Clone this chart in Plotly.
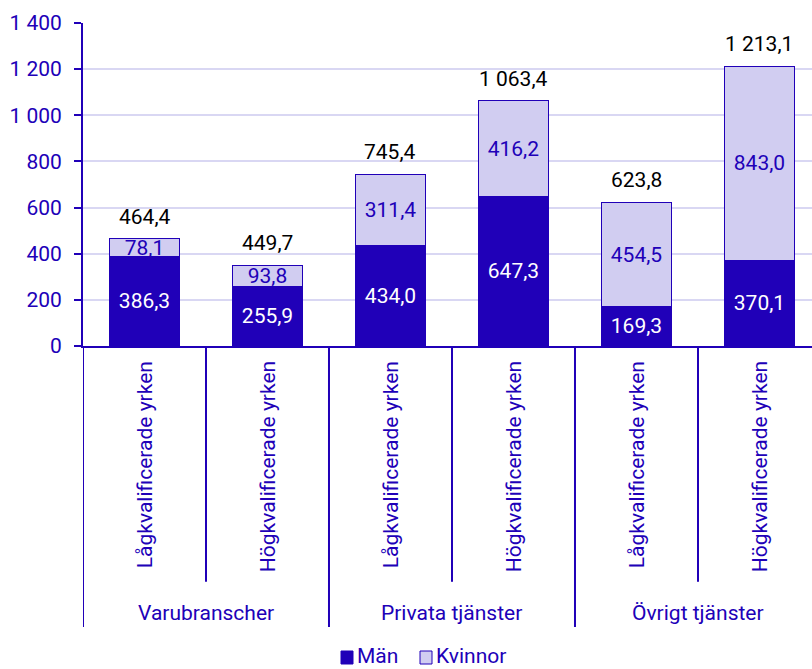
import plotly.graph_objects as go

categories = ["Lågkvalificerade yrken", "Högkvalificerade yrken",
              "Lågkvalificerade yrken", "Högkvalificerade yrken",
              "Lågkvalificerade yrken", "Högkvalificerade yrken"]
groups = ["Varubranscher", "Privata tjänster", "Övrigt tjänster"]
series_names = ["Män", "Kvinnor"]
man = [386.3, 255.9, 434.0, 647.3, 169.3, 370.1]
kvinnor = [78.1, 93.8, 311.4, 416.2, 454.5, 843.0]
totals = [464.4, 449.7, 745.4, 1063.4, 623.8, 1213.1]
y_ticks = [0, 200, 400, 600, 800, 1000, 1200, 1400]

DARK = "#2000B8"
LIGHT = "#D1CDF1"
GRID = "#D9D7F3"
FONT = "Roboto"
FS = 21

W, H = 812, 669
PLOT_L, PLOT_T, PLOT_W, PLOT_H = 83, 23, 729, 323


def fmt(v):
    return f"{v:,.1f}".replace(",", " ").replace(".", ",")


def px_x(px):  # page x -> paper
    return (px - PLOT_L) / PLOT_W


def px_y(py):  # page y -> paper
    return 1 - (py - PLOT_T) / PLOT_H


x = list(range(len(categories)))

fig = go.Figure()
fig.add_trace(go.Bar(
    x=x, y=man, name=series_names[0], marker=dict(color=DARK, line=dict(color=DARK, width=1)),
    text=[fmt(v) for v in man], textposition="inside", insidetextanchor="middle",
    textfont=dict(color="white", size=FS, family=FONT), width=0.57,
    constraintext="none",
))
fig.add_trace(go.Bar(
    x=x, y=kvinnor, name=series_names[1], marker=dict(color=LIGHT, line=dict(color=DARK, width=1)),
    text=[fmt(v) for v in kvinnor], textposition="inside", insidetextanchor="middle",
    textfont=dict(color=DARK, size=FS, family=FONT), width=0.57,
    constraintext="none",
))

stack_tops = [m + k for m, k in zip(man, kvinnor)]
for xi, top, tot in zip(x, stack_tops, totals):
    fig.add_annotation(x=xi, y=top, xref="x", yref="y", text=fmt(tot),
                       showarrow=False, yshift=22, yanchor="middle",
                       font=dict(color="black", size=FS, family=FONT))

# category labels (rotated)
for xi, c in zip(x, categories):
    fig.add_annotation(x=xi, y=-0.041, xref="x", yref="paper", text=c,
                       textangle=-90, showarrow=False, yanchor="top",
                       font=dict(color=DARK, size=FS, family=FONT))

# group labels
for gi, g in enumerate(groups):
    fig.add_annotation(x=gi * 2 + 0.5, y=-0.826, xref="x", yref="paper", text=g,
                       showarrow=False, yanchor="middle",
                       font=dict(color=DARK, size=FS, family=FONT))

# separators
for gi in range(len(groups)):
    fig.add_shape(type="line", xref="x", yref="paper", x0=gi * 2 - 0.5, x1=gi * 2 - 0.5,
                  y0=0, y1=-0.87, line=dict(color=DARK, width=2))
    fig.add_shape(type="line", xref="x", yref="paper", x0=gi * 2 + 0.5, x1=gi * 2 + 0.5,
                  y0=0, y1=-0.73, line=dict(color=DARK, width=2))

# custom legend (annotations + shapes so it does not push the margins)
legend_items = [(series_names[0], DARK, 341), (series_names[1], LIGHT, 420)]
for name, col, left in legend_items:
    fig.add_shape(type="rect", xref="paper", yref="paper",
                  x0=px_x(left), x1=px_x(left + 12), y0=px_y(664), y1=px_y(651),
                  fillcolor=col, line=dict(color=DARK, width=1))
    fig.add_annotation(x=px_x(left + 14), y=px_y(656), xref="paper", yref="paper",
                       text=name, showarrow=False, xanchor="left", yanchor="middle",
                       font=dict(color=DARK, size=FS, family=FONT))

fig.update_layout(
    barmode="stack",
    width=W, height=H,
    margin=dict(l=PLOT_L, r=W - PLOT_L - PLOT_W, t=PLOT_T, b=H - PLOT_T - PLOT_H),
    plot_bgcolor="white", paper_bgcolor="white",
    separators=", ",
    font=dict(family=FONT, size=FS, color=DARK),
    uniformtext=dict(mode="show", minsize=FS),
    showlegend=False,
)
fig.update_xaxes(range=[-0.5, 5.427], showticklabels=False, showgrid=False,
                 showline=True, linecolor=DARK, linewidth=2, ticks="", zeroline=False,
                 fixedrange=True)
fig.update_yaxes(range=[0, 1400], tickvals=y_ticks, separatethousands=True,
                 tickformat=",d", showgrid=True, gridcolor=GRID, gridwidth=2,
                 showline=True, linecolor=DARK, linewidth=2, ticks="outside",
                 ticklen=7, tickcolor=DARK, tickwidth=2, zeroline=False,
                 tickfont=dict(size=FS, color=DARK, family=FONT), ticklabelstandoff=8)

fig.write_html("out.html", config={"displayModeBar": False},
               post_script="document.body.style.margin='0';document.body.style.overflow='hidden';")
